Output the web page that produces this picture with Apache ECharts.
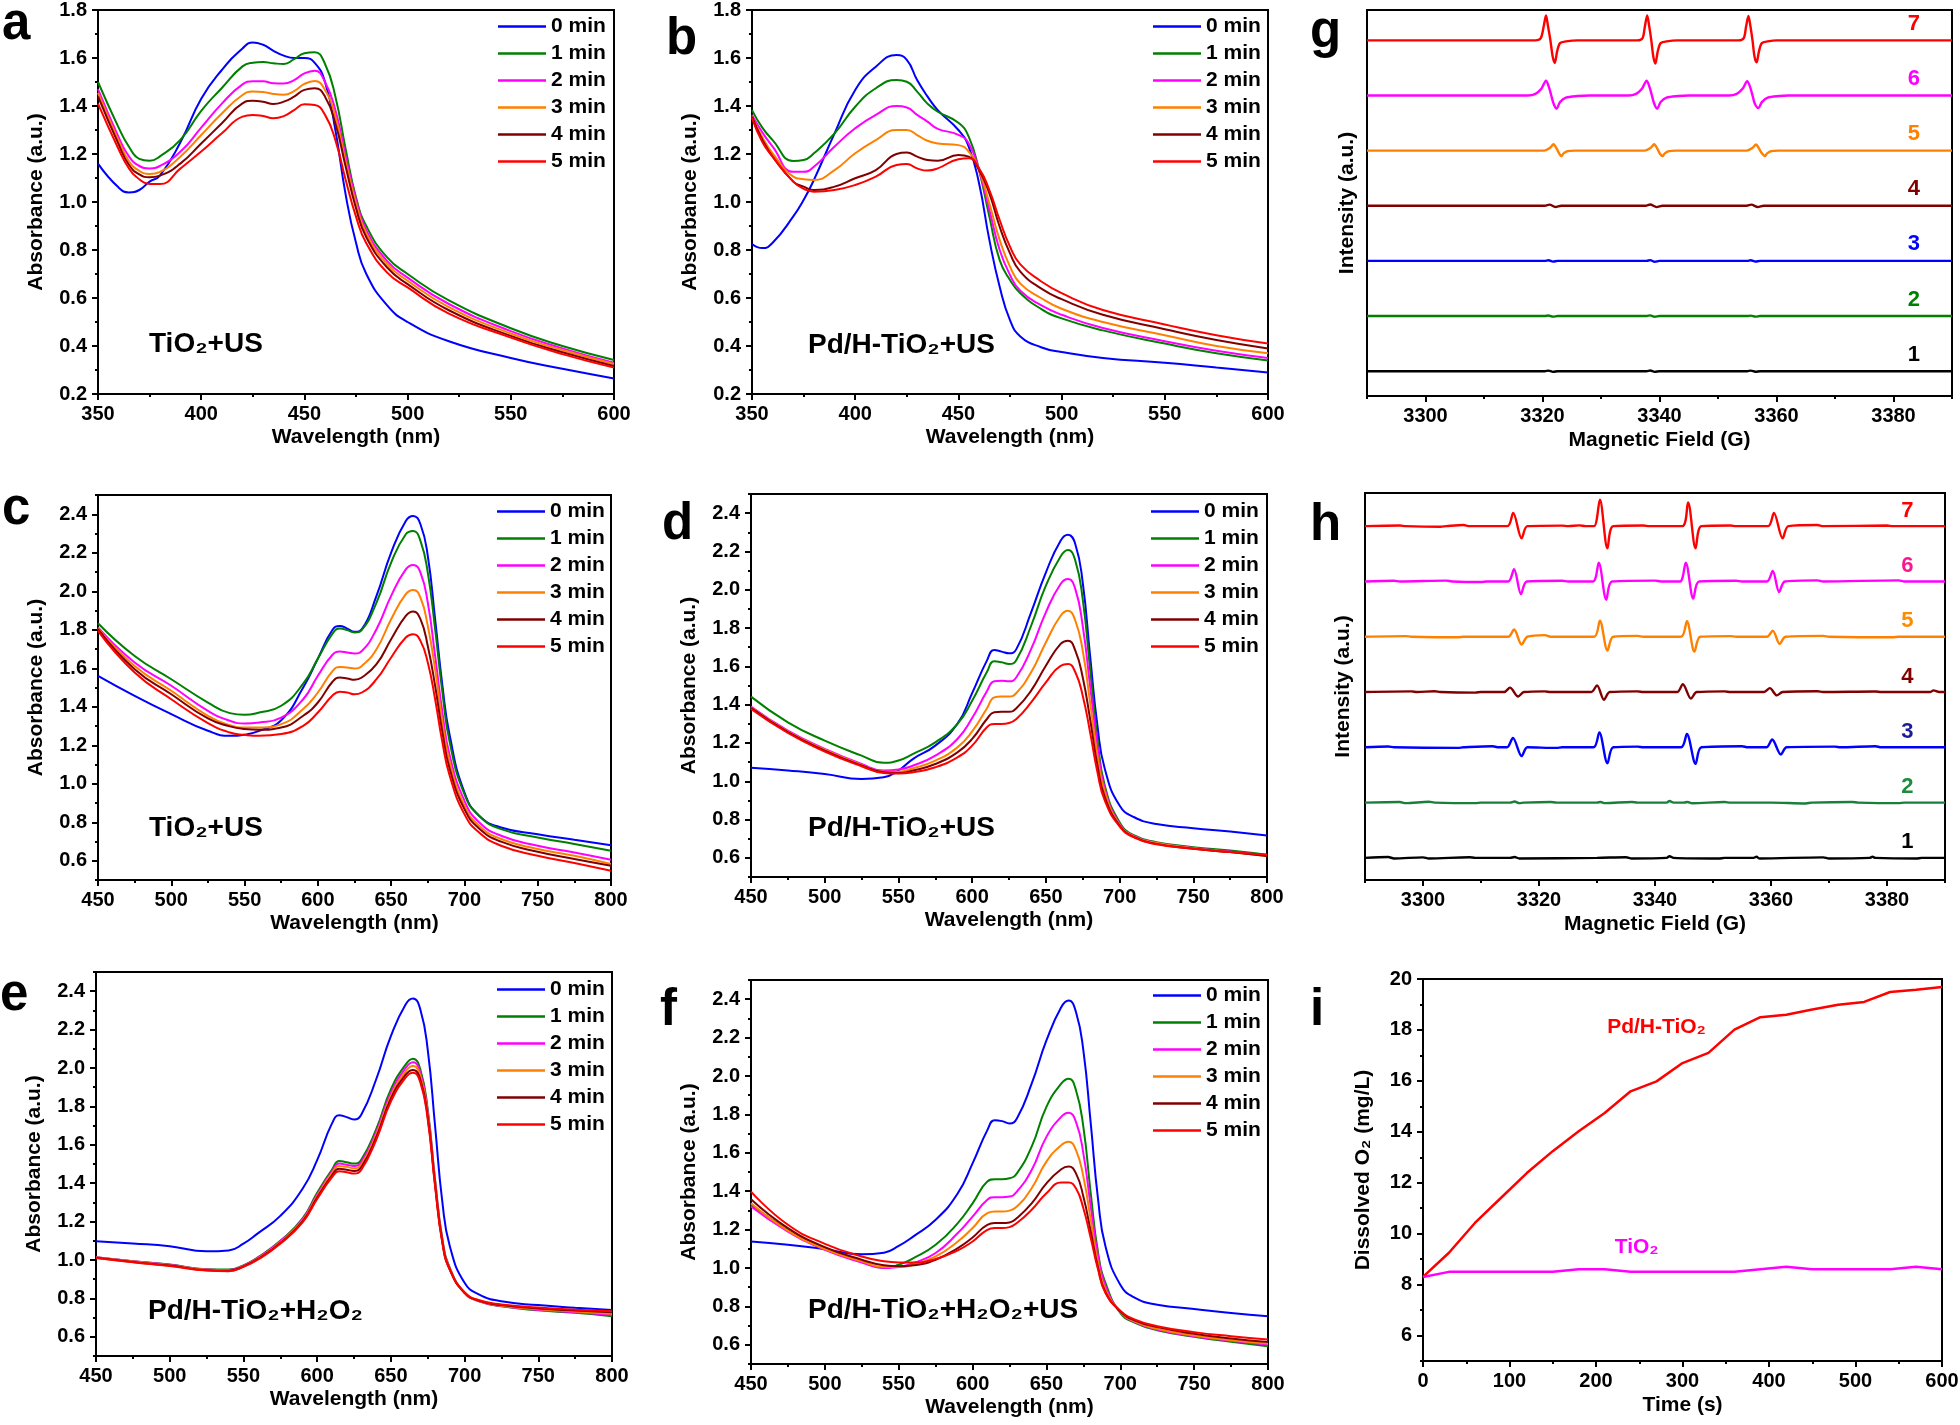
<!DOCTYPE html>
<html><head><meta charset="utf-8">
<script src="https://cdn.jsdelivr.net/npm/echarts@6/dist/echarts.min.js"></script>
<style>html,body{margin:0;padding:0;background:#fff}#c{width:1960px;height:1425px}</style>
</head><body><div id="c"></div>
<script>
// ---------------- DATA ----------------
const timeLegend = ['0 min','1 min','2 min','3 min','4 min','5 min'];
const specColors = ['#0000ff','#008000','#ff00ff','#ff8000','#800000','#ff0000'];

// panel a (TiO2+US, 350-600 nm)
const aX = [350,360,365,370,375,380,390,400,410,420,425,430,435,440,445,450,455,460,465,470,475,480,490,500,520,550,575,600];
const aY0 = [1.16,1.06,1.04,1.05,1.085,1.11,1.25,1.43,1.55,1.64,1.665,1.655,1.63,1.61,1.60,1.60,1.58,1.50,1.30,1.03,0.83,0.70,0.57,0.50,0.42,0.35,0.305,0.265];
const aY1 = [1.50,1.31,1.23,1.18,1.172,1.19,1.26,1.38,1.475,1.565,1.58,1.583,1.578,1.575,1.595,1.62,1.624,1.575,1.44,1.22,1.02,0.90,0.77,0.70,0.59,0.474,0.40,0.342];
const aY2 = [1.47,1.27,1.19,1.15,1.14,1.15,1.21,1.31,1.41,1.49,1.503,1.503,1.495,1.494,1.508,1.536,1.547,1.50,1.383,1.19,1.01,0.883,0.755,0.685,0.575,0.462,0.39,0.33];
const aY3 = [1.455,1.255,1.17,1.13,1.117,1.125,1.19,1.279,1.369,1.446,1.46,1.458,1.45,1.447,1.462,1.492,1.504,1.467,1.356,1.168,0.994,0.869,0.742,0.672,0.562,0.452,0.383,0.325];
const aY4 = [1.44,1.24,1.155,1.115,1.103,1.11,1.161,1.244,1.328,1.411,1.422,1.418,1.408,1.418,1.439,1.467,1.474,1.439,1.328,1.147,0.974,0.853,0.728,0.658,0.549,0.442,0.374,0.317];
const aY5 = [1.41,1.22,1.14,1.095,1.075,1.075,1.14,1.21,1.286,1.356,1.363,1.358,1.349,1.358,1.383,1.407,1.404,1.363,1.258,1.092,0.939,0.828,0.707,0.644,0.535,0.435,0.366,0.31];

// panel b (Pd/H-TiO2+US, 350-600 nm)
const bX = [350,355,360,370,375,380,390,400,410,420,425,430,435,440,450,455,460,465,470,475,480,490,500,520,550,575,600];
const bY0 = [0.825,0.808,0.83,0.94,1.008,1.092,1.286,1.467,1.564,1.612,1.592,1.508,1.44,1.383,1.30,1.231,1.078,0.842,0.647,0.508,0.44,0.395,0.375,0.35,0.33,0.31,0.29];
const bY1 = [1.383,1.31,1.258,1.171,1.175,1.203,1.286,1.397,1.474,1.508,1.501,1.46,1.41,1.376,1.33,1.272,1.133,0.939,0.758,0.675,0.62,0.555,0.515,0.465,0.41,0.37,0.34];
const bY2 = [1.363,1.29,1.231,1.126,1.126,1.147,1.231,1.307,1.363,1.40,1.394,1.363,1.335,1.305,1.28,1.244,1.133,0.967,0.80,0.696,0.63,0.57,0.53,0.475,0.42,0.38,0.35];
const bY3 = [1.356,1.27,1.203,1.106,1.095,1.092,1.133,1.203,1.258,1.30,1.30,1.279,1.255,1.244,1.237,1.21,1.133,0.994,0.842,0.731,0.66,0.60,0.555,0.50,0.445,0.40,0.37];
const bY4 = [1.356,1.26,1.189,1.085,1.064,1.05,1.064,1.099,1.133,1.20,1.206,1.189,1.175,1.172,1.196,1.189,1.133,1.036,0.897,0.786,0.71,0.64,0.595,0.53,0.47,0.425,0.39];
const bY5 = [1.349,1.25,1.189,1.085,1.055,1.043,1.05,1.071,1.106,1.154,1.158,1.14,1.131,1.14,1.178,1.182,1.14,1.05,0.925,0.814,0.74,0.67,0.62,0.55,0.49,0.445,0.41];

// panels c-f (450-800 nm)
const cfX = [450,475,500,525,540,550,560,575,590,600,610,615,620,625,630,640,650,660,665,670,675,680,685,690,700,710,725,750,775,800];
const cY0 = [1.561,1.457,1.362,1.275,1.249,1.255,1.275,1.33,1.50,1.65,1.80,1.82,1.806,1.789,1.803,1.976,2.201,2.365,2.391,2.348,2.184,1.855,1.509,1.249,0.955,0.834,0.773,0.738,0.709,0.681];
const cY1 = [1.834,1.664,1.543,1.422,1.367,1.358,1.37,1.405,1.52,1.65,1.78,1.806,1.798,1.786,1.80,1.941,2.149,2.296,2.313,2.262,2.097,1.803,1.474,1.214,0.946,0.834,0.764,0.721,0.687,0.652];
const cY2 = [1.812,1.63,1.509,1.379,1.327,1.313,1.318,1.344,1.439,1.561,1.67,1.687,1.682,1.677,1.69,1.803,1.976,2.114,2.137,2.097,1.941,1.664,1.37,1.145,0.912,0.80,0.73,0.678,0.643,0.605];
const cY3 = [1.806,1.612,1.483,1.353,1.304,1.292,1.292,1.31,1.388,1.474,1.585,1.607,1.604,1.599,1.612,1.699,1.855,1.985,2.007,1.967,1.82,1.595,1.318,1.11,0.886,0.782,0.713,0.661,0.626,0.583];
const cY4 = [1.803,1.595,1.465,1.339,1.298,1.284,1.28,1.292,1.353,1.422,1.53,1.552,1.547,1.54,1.552,1.621,1.751,1.872,1.895,1.855,1.716,1.509,1.266,1.076,0.868,0.768,0.699,0.647,0.609,0.574];
const cY5 = [1.794,1.578,1.439,1.315,1.266,1.254,1.249,1.258,1.301,1.37,1.458,1.478,1.474,1.465,1.474,1.543,1.656,1.76,1.777,1.742,1.63,1.439,1.214,1.041,0.842,0.747,0.678,0.626,0.588,0.548];

const dY0 = [1.07,1.056,1.038,1.012,1.021,1.056,1.117,1.186,1.30,1.46,1.63,1.685,1.677,1.668,1.69,1.882,2.09,2.256,2.287,2.238,2.038,1.656,1.29,1.064,0.873,0.812,0.777,0.755,0.737,0.717];
const dY1 = [1.442,1.308,1.212,1.134,1.096,1.108,1.143,1.203,1.299,1.42,1.57,1.626,1.621,1.612,1.633,1.812,2.021,2.174,2.207,2.151,1.951,1.586,1.221,0.977,0.786,0.717,0.682,0.656,0.638,0.616];
const dY2 = [1.39,1.264,1.169,1.09,1.056,1.061,1.082,1.134,1.221,1.33,1.47,1.522,1.525,1.522,1.543,1.69,1.882,2.03,2.056,2.003,1.812,1.499,1.186,0.96,0.777,0.713,0.678,0.652,0.633,0.612];
const dY3 = [1.386,1.259,1.165,1.085,1.05,1.05,1.068,1.108,1.177,1.26,1.38,1.438,1.443,1.442,1.461,1.569,1.725,1.864,1.89,1.838,1.682,1.412,1.134,0.943,0.772,0.711,0.677,0.65,0.63,0.609];
const dY4 = [1.383,1.256,1.16,1.082,1.047,1.043,1.056,1.09,1.151,1.221,1.325,1.36,1.363,1.363,1.381,1.473,1.603,1.717,1.734,1.682,1.543,1.325,1.082,0.917,0.769,0.708,0.673,0.647,0.63,0.609];
const dY5 = [1.377,1.252,1.155,1.078,1.043,1.04,1.047,1.073,1.125,1.186,1.282,1.299,1.299,1.304,1.325,1.412,1.516,1.603,1.612,1.569,1.447,1.256,1.047,0.899,0.765,0.706,0.671,0.647,0.63,0.616];

const eY0 = [1.098,1.086,1.072,1.045,1.05,1.085,1.14,1.23,1.37,1.52,1.71,1.754,1.744,1.732,1.758,1.94,2.166,2.331,2.362,2.305,2.096,1.697,1.298,1.072,0.881,0.82,0.785,0.765,0.751,0.739];
const eY1 = [1.015,0.994,0.976,0.952,0.95,0.972,1.015,1.10,1.215,1.35,1.47,1.516,1.509,1.502,1.523,1.68,1.888,2.018,2.048,1.992,1.784,1.419,1.107,0.959,0.829,0.785,0.759,0.738,0.725,0.707];
const eY2 = [1.015,0.994,0.975,0.951,0.948,0.97,1.012,1.097,1.21,1.34,1.46,1.502,1.496,1.49,1.51,1.665,1.87,2.00,2.03,1.975,1.77,1.41,1.10,0.955,0.828,0.785,0.76,0.74,0.728,0.715];
const eY3 = [1.013,0.992,0.973,0.949,0.946,0.968,1.009,1.093,1.205,1.333,1.452,1.49,1.485,1.478,1.498,1.652,1.855,1.982,2.01,1.958,1.757,1.40,1.095,0.952,0.828,0.786,0.762,0.744,0.732,0.72];
const eY4 = [1.012,0.99,0.971,0.947,0.944,0.966,1.006,1.089,1.20,1.325,1.44,1.475,1.47,1.464,1.484,1.638,1.84,1.965,1.99,1.94,1.745,1.392,1.09,0.95,0.83,0.788,0.765,0.748,0.737,0.728];
const eY5 = [1.01,0.988,0.969,0.945,0.942,0.964,1.003,1.085,1.195,1.318,1.43,1.462,1.457,1.45,1.47,1.625,1.825,1.95,1.975,1.925,1.733,1.385,1.087,0.949,0.832,0.79,0.768,0.752,0.741,0.733];

const fY0 = [1.138,1.121,1.098,1.072,1.08,1.115,1.165,1.251,1.389,1.545,1.718,1.77,1.765,1.753,1.779,1.96,2.185,2.358,2.393,2.333,2.133,1.753,1.355,1.112,0.913,0.844,0.809,0.787,0.766,0.749];
const fY1 = [1.33,1.199,1.104,1.035,1.0,1.017,1.052,1.121,1.234,1.337,1.45,1.462,1.462,1.467,1.493,1.632,1.839,1.96,1.986,1.926,1.735,1.389,1.078,0.922,0.766,0.714,0.676,0.642,0.616,0.593];
const fY2 = [1.32,1.19,1.095,1.029,1.0,1.005,1.026,1.078,1.182,1.268,1.355,1.369,1.369,1.372,1.398,1.51,1.683,1.787,1.808,1.761,1.597,1.32,1.06,0.905,0.77,0.718,0.68,0.645,0.621,0.602];
const fY3 = [1.337,1.195,1.098,1.035,1.005,1.005,1.017,1.06,1.138,1.208,1.286,1.294,1.294,1.299,1.32,1.415,1.554,1.64,1.658,1.614,1.476,1.251,1.026,0.887,0.773,0.721,0.683,0.648,0.624,0.607];
const fY4 = [1.358,1.208,1.109,1.043,1.014,1.009,1.014,1.043,1.104,1.159,1.225,1.234,1.234,1.237,1.26,1.337,1.441,1.514,1.528,1.493,1.372,1.19,1.0,0.874,0.775,0.726,0.692,0.657,0.633,0.614];
const fY5 = [1.398,1.225,1.126,1.06,1.035,1.029,1.029,1.047,1.092,1.138,1.199,1.208,1.208,1.213,1.234,1.303,1.389,1.445,1.445,1.415,1.311,1.156,0.991,0.87,0.778,0.731,0.697,0.666,0.645,0.628];

// EPR spectra (signal, offset added per trace) g: panel g, h: panel h
const eprNames = ['1','2','3','4','5','6','7'];
const gColors = ['#000000','#008000','#0000ff','#800000','#ff8000','#ff00ff','#ff0000'];
const hColors = ['#000000','#1a7f3a','#0000ff','#800000','#ff8000','#ff00ff','#ff0000'];
const hLabelColors = ['#000000','#1e8c3c','#1c1c96','#800000','#ff8c00','#f5188f','#ff0000'];
const gOffsets = [0.45,1.45,2.45,3.45,4.45,5.45,6.45];
const hOffsets = [0.4,1.4,2.4,3.4,4.4,5.4,6.4];
const g1 = [[3290,0],[3320.4,0],[3321.0,0.01],[3321.8,-0.012],[3322.6,0],[3337.8,0],[3338.4,0.012],[3339.2,-0.012],[3340,0],[3355,0],[3355.6,0.01],[3356.4,-0.01],[3357.2,0],[3390,0]];
const g2 = [[3290,0],[3320.4,0],[3321.0,0.01],[3321.8,-0.01],[3322.6,0],[3337.8,0],[3338.4,0.012],[3339.2,-0.012],[3340,0],[3355,0],[3355.6,0.008],[3356.4,-0.01],[3357.2,0],[3390,0]];
const g3 = [[3290,0],[3320.4,0],[3321.0,0.012],[3321.8,-0.014],[3322.6,0],[3337.8,0],[3338.4,0.014],[3339.2,-0.016],[3340,0],[3355,0],[3355.6,0.012],[3356.4,-0.012],[3357.2,0],[3390,0]];
const g4 = [[3290,0],[3320.4,0],[3321.2,0.02],[3322.2,-0.022],[3323.2,0],[3337.6,0],[3338.4,0.022],[3339.5,-0.024],[3340.5,0],[3354.9,0],[3355.7,0.02],[3356.8,-0.022],[3357.8,0],[3390,0]];
const g5 = [[3290,0],[3320.3,0],[3321.3,0.05],[3321.9,0.115],[3322.3,0.06],[3322.6,0],[3322.9,-0.06],[3323.2,-0.10],[3323.6,-0.05],[3324.3,-0.01],[3325.5,0],
            [3337.5,0],[3338.5,0.05],[3339.1,0.115],[3339.5,0.06],[3339.8,0],[3340.1,-0.06],[3340.5,-0.10],[3340.9,-0.05],[3341.6,-0.01],[3342.8,0],
            [3354.9,0],[3355.9,0.05],[3356.5,0.11],[3356.9,0.06],[3357.2,0],[3357.6,-0.06],[3358.0,-0.10],[3358.4,-0.05],[3359.1,-0.01],[3360.3,0],[3390,0]];
const g6 = [[3290,0],[3317.5,0],[3318.8,0.03],[3319.8,0.12],[3320.6,0.27],[3321.1,0.15],[3321.5,0],[3321.9,-0.15],[3322.4,-0.24],[3323,-0.12],[3324,-0.04],[3326,-0.01],[3328,0],
            [3334.7,0],[3336,0.03],[3337,0.12],[3337.8,0.27],[3338.3,0.15],[3338.7,0],[3339.1,-0.15],[3339.6,-0.24],[3340.2,-0.12],[3341.2,-0.04],[3343.2,-0.01],[3345,0],
            [3351.9,0],[3353.2,0.03],[3354.2,0.12],[3355.0,0.26],[3355.5,0.15],[3355.9,0],[3356.3,-0.15],[3356.9,-0.23],[3357.5,-0.12],[3358.5,-0.04],[3360.5,-0.01],[3362,0],[3390,0]];
const g7 = [[3290,0],[3318.8,0],[3319.7,0.04],[3320.2,0.25],[3320.6,0.45],[3320.95,0.25],[3321.35,0],[3321.75,-0.3],[3322.1,-0.41],[3322.5,-0.2],[3323,-0.05],[3324,-0.02],[3326,0],
            [3336.2,0],[3337.1,0.04],[3337.5,0.25],[3337.9,0.45],[3338.25,0.25],[3338.6,0],[3338.95,-0.3],[3339.3,-0.42],[3339.7,-0.2],[3340.2,-0.05],[3341.2,-0.02],[3343,0],
            [3353.5,0],[3354.4,0.04],[3354.8,0.25],[3355.2,0.44],[3355.55,0.25],[3355.9,0],[3356.25,-0.3],[3356.6,-0.40],[3357,-0.2],[3357.5,-0.05],[3358.5,-0.02],[3360,0],[3390,0]];

const h1 = [[3290,0],[3294,0.015],[3295,-0.01],[3300,0.01],[3301,-0.01],[3308,0.012],[3309,0],[3315,0],[3315.8,0.015],[3316.6,-0.01],[3330,0],[3335,0.012],[3336,-0.01],[3342,0],[3342.5,0.03],[3343.2,0],[3351,-0.012],[3352,0],[3357,0],[3357.5,0.02],[3358,-0.01],[3369,0.01],[3370,-0.01],[3377,0],[3377.5,0.02],[3378,0],[3385,-0.012],[3386,0],[3390,0]];
const h2 = [[3290,0],[3296,0.012],[3297,-0.01],[3301,0.015],[3302,0],[3309,-0.01],[3310,0],[3315,0],[3315.8,0.02],[3316.6,-0.01],[3317.4,0],[3322,0.012],[3323,0],[3330,0],[3330.6,0.012],[3331.4,-0.01],[3336,0.012],[3337,0],[3342,0],[3342.5,0.03],[3343.2,0],[3345,0],[3345.6,0.012],[3346.4,-0.012],[3352,0.01],[3353,0],[3360,0],[3366,-0.015],[3367,0],[3374,0.012],[3375,0],[3382,-0.01],[3383,0],[3390,0]];
const h3 = [[3290,0],[3294,0.015],[3295,0],[3306,-0.01],[3307,0],[3312,0.02],[3313,0],[3314.5,0],[3315.5,0.17],[3317.0,-0.16],[3318,0],[3323,-0.01],[3324,0],[3329.4,0],[3330.4,0.27],[3331.8,-0.29],[3332.8,0],[3337,0.012],[3338,0],[3344.5,0],[3345.5,0.24],[3347.0,-0.30],[3348,0],[3355,0.02],[3356,0],[3359.2,0],[3360.2,0.14],[3361.7,-0.13],[3362.7,0],[3371,0.012],[3372,0],[3378,0.02],[3379,0],[3390,0]];
const h4 = [[3290,0],[3298,0.012],[3299,0],[3302,0.015],[3303,0],[3309,-0.01],[3310,0],[3314,0],[3315,0.08],[3316.4,-0.08],[3317.4,0],[3321,0.012],[3322,0],[3329,0],[3330,0.12],[3331.2,-0.14],[3332.2,0],[3337,0.012],[3338,0],[3343.8,0],[3344.8,0.14],[3346.2,-0.12],[3347.2,0],[3352,0.012],[3353,0],[3358.8,0],[3359.8,0.07],[3361.0,-0.06],[3362,0],[3368,0.015],[3369,0],[3378,0.01],[3379,0],[3387.5,0],[3388,0.03],[3389,0],[3390,0]];
const h5 = [[3290,0],[3297,0.012],[3298,0],[3306,-0.01],[3307,0],[3314.7,0],[3315.7,0.13],[3317.0,-0.14],[3318,0],[3321,0.03],[3322,0],[3329.5,0],[3330.5,0.29],[3331.8,-0.25],[3332.8,0],[3337,0.015],[3338,0],[3344.5,0],[3345.5,0.28],[3346.8,-0.27],[3347.8,0],[3353,0.012],[3354,0],[3359.3,0],[3360.3,0.11],[3361.5,-0.13],[3362.5,0],[3369,0.015],[3370,0],[3381,-0.01],[3382,0],[3390,0]];
const h6 = [[3290,0],[3295,0.012],[3296,0],[3304,0.015],[3305,0],[3310,-0.01],[3311,0],[3314.7,0],[3315.7,0.22],[3316.9,-0.23],[3317.9,0],[3324,0.012],[3325,0],[3329.3,0],[3330.3,0.34],[3331.6,-0.33],[3332.6,0],[3340,0.015],[3341,0],[3344.3,0],[3345.3,0.34],[3346.6,-0.31],[3347.6,0],[3354,0.012],[3355,0],[3359.3,0],[3360.3,0.19],[3361.4,-0.19],[3362.4,0],[3368,0.02],[3369,0],[3382,0.02],[3383,0],[3390,0]];
const h7 = [[3290,0],[3296,0.012],[3297,0],[3303,-0.01],[3304,0],[3307,0.02],[3308,0],[3314.55,0],[3315.55,0.24],[3317.0,-0.22],[3318,0],[3324,0.01],[3325,0],[3327,0.015],[3328,0],[3329.5,0],[3330.5,0.48],[3331.8,-0.40],[3332.8,0],[3338,0.012],[3339,0],[3344.7,0],[3345.7,0.43],[3347.0,-0.40],[3348,0],[3353,0.012],[3354,0],[3359.5,0],[3360.5,0.24],[3362.0,-0.22],[3363,0],[3368,0.02],[3369,0],[3380,0.012],[3381,0],[3390,0]];

// panel i: dissolved O2
const iTime = [0,30,60,90,120,150,180,210,240,270,300,330,360,390,420,450,480,510,540,570,600];
const iPdH = [8.3,9.25,10.42,11.4,12.38,13.24,14.02,14.74,15.59,15.98,16.7,17.1,18.01,18.5,18.6,18.8,18.99,19.1,19.49,19.58,19.69];
const iTiO2 = [8.3,8.5,8.5,8.5,8.5,8.5,8.6,8.6,8.5,8.5,8.5,8.5,8.5,8.6,8.7,8.6,8.6,8.6,8.6,8.7,8.6];

// tick values
const absTicksAB = [0.2,0.4,0.6,0.8,1.0,1.2,1.4,1.6,1.8];
const absMinorAB = [0.3,0.5,0.7,0.9,1.1,1.3,1.5,1.7];
const absTicksCF = [0.6,0.8,1.0,1.2,1.4,1.6,1.8,2.0,2.2,2.4];
const absMinorCF = [0.5,0.7,0.9,1.1,1.3,1.5,1.7,1.9,2.1,2.3,2.5];
const wlTicksAB = [350,400,450,500,550,600];
const wlMinorAB = [375,425,475,525,575];
const wlTicksCF = [450,500,550,600,650,700,750,800];
const wlMinorCF = [475,525,575,625,675,725,775];
const fieldTicks = [3300,3320,3340,3360,3380];
const fieldMinor = [3290,3310,3330,3350,3370,3390];
const timeTicks = [0,100,200,300,400,500,600];
const timeMinor = [50,150,250,350,450,550];
const o2Ticks = [6,8,10,12,14,16,18,20];
const o2Minor = [5,7,9,11,13,15,17,19];

// ---------------- CHART ----------------
const FONT = "'Liberation Sans', Arial, 'DejaVu Sans', sans-serif";
const grids = [
  {left:98, top:10, width:516, height:384},   // a
  {left:752, top:10, width:516, height:384},  // b
  {left:1367, top:10, width:585, height:386}, // g
  {left:98, top:495, width:513, height:385},  // c
  {left:751, top:494, width:516, height:383}, // d
  {left:1365, top:493, width:580, height:387},// h
  {left:96, top:972, width:516, height:384},  // e
  {left:751, top:980, width:517, height:384}, // f
  {left:1423, top:979, width:519, height:382} // i
].map(g => Object.assign({show:true, borderColor:'#000', borderWidth:2, containLabel:false, outerBoundsMode:'none', backgroundColor:'transparent'}, g));

const xAxis = [], yAxis = [], series = [];
function axisPair(arr, dim, gi, min, max, major, minor, fmt, name, nameGap) {
  const pos = dim === 'x' ? 'bottom' : 'left';
  arr.push({
    type:'value', gridIndex:gi, min, max, position:pos, offset:0,
    name, nameLocation:'middle', nameGap,
    nameTextStyle:{fontFamily:FONT, fontWeight:'bold', fontSize:21, color:'#000'},
    axisLine:{show:true, onZero:false, lineStyle:{color:'#000', width:2}},
    axisTick:{show: major.length>0, length:6, customValues: major, lineStyle:{color:'#000', width:2}},
    axisLabel:{show: major.length>0, customValues: major, margin: dim==='x'?10:11, formatter: fmt,
      fontFamily:FONT, fontWeight:'bold', fontSize:20, color:'#000'},
    splitLine:{show:false}, minorTick:{show:false}
  });
  arr.push({
    type:'value', gridIndex:gi, min, max, position:pos, offset:0,
    axisLine:{show:false, onZero:false},
    axisTick:{show: minor.length>0, length:3, customValues: minor, lineStyle:{color:'#000', width:2}},
    axisLabel:{show:false, customValues: minor},
    splitLine:{show:false}
  });
}
const f1 = v => v.toFixed(1);
const f0 = v => String(Math.round(v));

const specPanels = [
  {gi:0, x:aX, ys:[aY0,aY1,aY2,aY3,aY4,aY5], xr:[350,600], yr:[0.2,1.8], xt:wlTicksAB, xm:wlMinorAB, yt:absTicksAB, ym:absMinorAB},
  {gi:1, x:bX, ys:[bY0,bY1,bY2,bY3,bY4,bY5], xr:[350,600], yr:[0.2,1.8], xt:wlTicksAB, xm:wlMinorAB, yt:absTicksAB, ym:absMinorAB},
  {gi:3, x:cfX, ys:[cY0,cY1,cY2,cY3,cY4,cY5], xr:[450,800], yr:[0.5,2.5], xt:wlTicksCF, xm:wlMinorCF, yt:absTicksCF, ym:absMinorCF},
  {gi:4, x:cfX, ys:[dY0,dY1,dY2,dY3,dY4,dY5], xr:[450,800], yr:[0.5,2.5], xt:wlTicksCF, xm:wlMinorCF, yt:absTicksCF, ym:absMinorCF},
  {gi:6, x:cfX, ys:[eY0,eY1,eY2,eY3,eY4,eY5], xr:[450,800], yr:[0.5,2.5], xt:wlTicksCF, xm:wlMinorCF, yt:absTicksCF, ym:absMinorCF},
  {gi:7, x:cfX, ys:[fY0,fY1,fY2,fY3,fY4,fY5], xr:[450,800], yr:[0.5,2.5], xt:wlTicksCF, xm:wlMinorCF, yt:absTicksCF, ym:absMinorCF}
];

const axisIdx = {};
function addAxesForGrid(gi) {
  const sp = specPanels.find(p => p.gi === gi);
  axisIdx[gi] = xAxis.length;
  if (sp) {
    axisPair(xAxis,'x',gi,sp.xr[0],sp.xr[1],sp.xt,sp.xm,f0,'Wavelength (nm)',33);
    axisPair(yAxis,'y',gi,sp.yr[0],sp.yr[1],sp.yt,sp.ym,f1,'Absorbance (a.u.)',51);
  } else if (gi === 2 || gi === 5) {
    axisPair(xAxis,'x',gi,3290,3390,fieldTicks,fieldMinor,f0,'Magnetic Field (G)',34);
    axisPair(yAxis,'y',gi,0,7,[],[],f0,'Intensity (a.u.)', gi===2?9:11);
  } else {
    axisPair(xAxis,'x',gi,0,600,timeTicks,timeMinor,f0,'Time (s)',34);
    axisPair(yAxis,'y',gi,5,20,o2Ticks,o2Minor,f0,'Dissolved O\u2082 (mg/L)',49);
  }
}
for (let gi=0; gi<9; gi++) addAxesForGrid(gi);

specPanels.forEach(p => {
  const ai = axisIdx[p.gi];
  p.ys.forEach((ys, k) => {
    series.push({
      type:'line', name: timeLegend[k], xAxisIndex: ai, yAxisIndex: ai,
      data: p.x.map((xx, i) => [xx, ys[i]]),
      symbol:'none', showSymbol:false, smooth:0.5,
      lineStyle:{width:2, color: specColors[k]}, itemStyle:{color: specColors[k]},
      silent:true, animation:false
    });
  });
});

function eprSeries(gi, traces, offsets, colors, labelColors, labelDy, lw) {
  const ai = axisIdx[gi];
  traces.forEach((tr, k) => {
    series.push({
      type:'line', name: 'epr'+gi+'_'+eprNames[k], xAxisIndex: ai, yAxisIndex: ai,
      data: tr.map(p => [p[0], p[1] + offsets[k]]),
      symbol:'none', showSymbol:false, smooth:0.3,
      lineStyle:{width: lw, color: colors[k]}, itemStyle:{color: colors[k]},
      silent:true, animation:false,
      markPoint:{symbol:'circle', symbolSize:0, silent:true, animation:false,
        data:[{coord:[3383.5, offsets[k] + labelDy],
          label:{show:true, position:'inside', formatter: eprNames[k], color: labelColors[k],
            fontFamily:FONT, fontWeight:'bold', fontSize:22}}]}
    });
  });
}
eprSeries(2, [g1,g2,g3,g4,g5,g6,g7], gOffsets, gColors, gColors, 0.3, 2.4);
eprSeries(5, [h1,h2,h3,h4,h5,h6,h7], hOffsets, hColors, hLabelColors, 0.28, 2.4);

const ii = axisIdx[8];
series.push({type:'line', name:'Pd/H-TiO2', xAxisIndex:ii, yAxisIndex:ii,
  data: iTime.map((t,i)=>[t, iPdH[i]]), symbol:'none', lineStyle:{width:2.5, color:'#ff0000'}, itemStyle:{color:'#ff0000'}, animation:false,
  markPoint:{symbol:'circle', symbolSize:0, data:[{coord:[270,18.1], label:{show:true, position:'inside', formatter:'Pd/H-TiO\u2082', color:'#ff0000', fontFamily:FONT, fontWeight:'bold', fontSize:21}}]}});
series.push({type:'line', name:'TiO2', xAxisIndex:ii, yAxisIndex:ii,
  data: iTime.map((t,i)=>[t, iTiO2[i]]), symbol:'none', lineStyle:{width:2.5, color:'#ff00ff'}, itemStyle:{color:'#ff00ff'}, animation:false,
  markPoint:{symbol:'circle', symbolSize:0, data:[{coord:[247,9.45], label:{show:true, position:'inside', formatter:'TiO\u2082', color:'#ff00ff', fontFamily:FONT, fontWeight:'bold', fontSize:21}}]}});

// legends
const legendPos = [[493,11],[1148,11],[492,496],[1146,496],[492,974],[1148,980]];
const legend = legendPos.map(p => ({
  data: timeLegend.map(n => ({name:n, icon:'rect'})), left:p[0], top:p[1], orient:'vertical', itemWidth:48, itemHeight:2.5, itemGap:6,
  selectedMode:false, textStyle:{fontFamily:FONT, fontWeight:'bold', fontSize:21, color:'#000'}
}));

// panel letters and sample labels
const letters = [['a',2,37],['b',666,52],['g',1310,45],['c',2,522],['d',662,537],['h',1310,538],['e',0,1008],['f',660,1023],['i',1310,1023]];
const sampleLabels = [
  ['TiO\u2082+US',149,346],['Pd/H-TiO\u2082+US',808,347],['TiO\u2082+US',149,830],['Pd/H-TiO\u2082+US',808,830],
  ['Pd/H-TiO\u2082+H\u2082O\u2082',148,1313],['Pd/H-TiO\u2082+H\u2082O\u2082+US',808,1312]
];
const graphic = [];
letters.forEach(l => graphic.push({type:'text', left:l[1], top:l[2]-38, silent:true,
  style:{text:l[0], font:'bold 51px '+FONT, fill:'#000'}}));
sampleLabels.forEach(s => graphic.push({type:'text', left:s[1], top:s[2]-16, silent:true,
  style:{text:s[0], font:'bold 28px '+FONT, fill:'#000'}}));

const chart = echarts.init(document.getElementById('c'), null, {renderer:'canvas'});
chart.setOption({animation:false, backgroundColor:'#fff', grid:grids, xAxis, yAxis, series, legend, graphic});
</script></body></html>
